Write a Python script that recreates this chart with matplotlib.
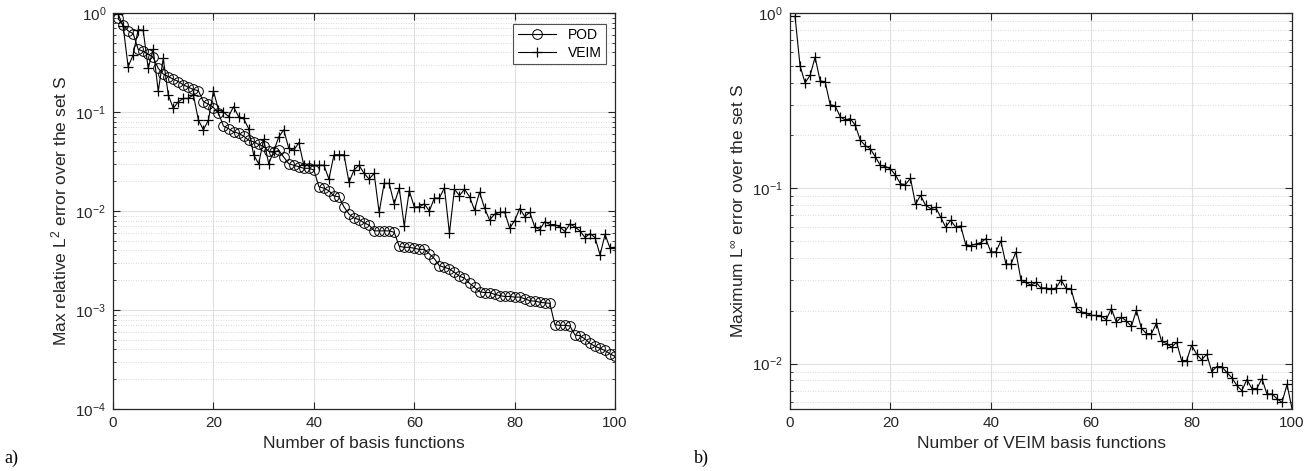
import numpy as np
import matplotlib
matplotlib.use("Agg")
import matplotlib.pyplot as plt

# ---- data ----
n = np.arange(1, 101)

pod_err = [0.88, 0.75, 0.66, 0.62, 0.43, 0.41, 0.385, 0.356, 0.276, 0.242,
           0.228, 0.215, 0.203, 0.188, 0.178, 0.169, 0.164, 0.127, 0.120, 0.111,
           0.097, 0.072, 0.068, 0.063, 0.061, 0.057, 0.052, 0.050, 0.047, 0.045,
           0.040, 0.039, 0.041, 0.035, 0.030, 0.029, 0.028, 0.027, 0.027, 0.026,
           0.0176, 0.017, 0.016, 0.0142, 0.0139, 0.011, 0.0093, 0.0085, 0.0082, 0.0076,
           0.0072, 0.0063, 0.0063, 0.0063, 0.0063, 0.0061, 0.0044, 0.0043, 0.0043, 0.0042,
           0.0041, 0.0041, 0.0037, 0.0033, 0.0028, 0.0027, 0.0026, 0.0024, 0.0022, 0.0021,
           0.00186, 0.0017, 0.00153, 0.0015, 0.0015, 0.00144, 0.0014, 0.00137, 0.00137, 0.00135,
           0.00135, 0.0013, 0.00124, 0.00123, 0.0012, 0.00118, 0.00117, 0.00071, 0.00070, 0.00070,
           0.00069, 0.00056, 0.00055, 0.00051, 0.00046, 0.00043, 0.00041, 0.00039, 0.00036, 0.00034]

veim_l2 = [0.98, 0.74, 0.287, 0.376, 0.68, 0.67, 0.276, 0.43, 0.163, 0.348,
           0.149, 0.109, 0.127, 0.137, 0.137, 0.149, 0.083, 0.066, 0.083, 0.163,
           0.105, 0.100, 0.090, 0.113, 0.090, 0.086, 0.068, 0.037, 0.030, 0.053,
           0.030, 0.040, 0.056, 0.066, 0.043, 0.041, 0.049, 0.029, 0.029, 0.029,
           0.029, 0.029, 0.021, 0.037, 0.037, 0.037, 0.0195, 0.026, 0.029, 0.024,
           0.021, 0.024, 0.0097, 0.019, 0.019, 0.0118, 0.017, 0.0071, 0.016, 0.011,
           0.011, 0.0118, 0.010, 0.0135, 0.0135, 0.0172, 0.0060, 0.0166, 0.0143, 0.0166,
           0.014, 0.0102, 0.0155, 0.0107, 0.0081, 0.0093, 0.0097, 0.0098, 0.0067, 0.0080,
           0.0106, 0.0088, 0.0097, 0.0069, 0.0065, 0.0078, 0.0073, 0.0073, 0.0069, 0.0062,
           0.0074, 0.0069, 0.0063, 0.0054, 0.0059, 0.0054, 0.0036, 0.0058, 0.0042, 0.0043]

veim_linf = [0.96, 0.50, 0.40, 0.44, 0.56, 0.41, 0.405, 0.30, 0.295, 0.256,
             0.245, 0.25, 0.229, 0.188, 0.175, 0.168, 0.151, 0.135, 0.133, 0.129,
             0.119, 0.106, 0.105, 0.114, 0.081, 0.091, 0.080, 0.0766, 0.078, 0.0686,
             0.060, 0.0656, 0.060, 0.061, 0.0477, 0.047, 0.048, 0.049, 0.0515, 0.0433,
             0.0433, 0.050, 0.037, 0.0368, 0.0433, 0.030, 0.029, 0.028, 0.029, 0.027,
             0.027, 0.0265, 0.027, 0.030, 0.0268, 0.0265, 0.0209, 0.0197, 0.0194, 0.0188,
             0.0188, 0.0186, 0.0178, 0.0206, 0.0172, 0.0184, 0.0175, 0.0163, 0.0201, 0.0159,
             0.0148, 0.0148, 0.0170, 0.0134, 0.0130, 0.0124, 0.0132, 0.0104, 0.0104, 0.0127,
             0.0113, 0.0105, 0.0113, 0.0090, 0.0096, 0.0096, 0.0089, 0.0083, 0.0075, 0.0070,
             0.0081, 0.0072, 0.0072, 0.0082, 0.0067, 0.0067, 0.0063, 0.0060, 0.0076, 0.0055]

x_ticks = [0, 20, 40, 60, 80, 100]

plt.rcParams['font.family'] = ['Liberation Sans', 'DejaVu Sans']
plt.rcParams['mathtext.default'] = 'regular'
plt.rcParams['font.size'] = 12

axis_col = (0.15, 0.15, 0.15)


def matlab_style(ax):
    ax.set_yscale('log')
    ax.set_xlim(0, 100)
    ax.set_xticks(x_ticks)
    ax.grid(True, which='major', color=(0.88, 0.88, 0.88), linewidth=0.8, linestyle='-')
    ax.grid(True, which='minor', color=(0.8, 0.8, 0.8), linewidth=0.6, linestyle=(0, (1, 2)))
    ax.set_axisbelow(True)
    ax.tick_params(which='both', direction='in', top=True, right=True, colors=axis_col,
                   labelcolor=axis_col, labelsize=11)
    ax.tick_params(which='major', length=5, pad=5)
    ax.tick_params(which='minor', length=2.5)
    for s in ax.spines.values():
        s.set_color(axis_col)
        s.set_linewidth(0.9)


fig = plt.figure(figsize=(13.16, 4.71), dpi=100)

# a) POD vs VEIM
ax1 = fig.add_axes([0.0859, 0.1316, 0.3815, 0.8408])
matlab_style(ax1)
ax1.plot(n, pod_err, '-o', color='black', lw=0.8, markersize=7,
         markerfacecolor='none', markeredgewidth=0.7, label='POD')
ax1.plot(n, veim_l2, '-+', color='black', lw=0.8, markersize=7.5,
         markeredgewidth=0.9, label='VEIM')
ax1.set_ylim(1e-4, 1)
ax1.set_xlabel('Number of basis functions', color=axis_col, fontsize=12.5)
ax1.set_ylabel('Max relative L$^2$ error over the set S', color=axis_col, fontsize=12.5)
leg = ax1.legend(loc='upper right', fancybox=False, edgecolor=axis_col,
                 handlelength=2.8, fontsize=10, borderpad=0.3, labelspacing=0.3,
                 bbox_to_anchor=(0.995, 0.99))
leg.get_frame().set_linewidth(0.8)

# b) VEIM L-infinity
ax2 = fig.add_axes([0.6003, 0.1316, 0.3815, 0.8408])
matlab_style(ax2)
ax2.plot(n, veim_linf, '-+', color='black', lw=0.8, markersize=7.5, markeredgewidth=0.9)
ax2.set_ylim(5.5e-3, 1)
ax2.set_xlabel('Number of VEIM basis functions', color=axis_col, fontsize=12.5)
ax2.set_ylabel(r'Maximum L$^{\infty}$ error over the set S', color=axis_col, fontsize=12.5)

fig.text(0.003, 0.018, 'a)', family='Liberation Serif', fontsize=13)
fig.text(0.527, 0.018, 'b)', family='Liberation Serif', fontsize=13)

fig.savefig('out.png', dpi=100)
